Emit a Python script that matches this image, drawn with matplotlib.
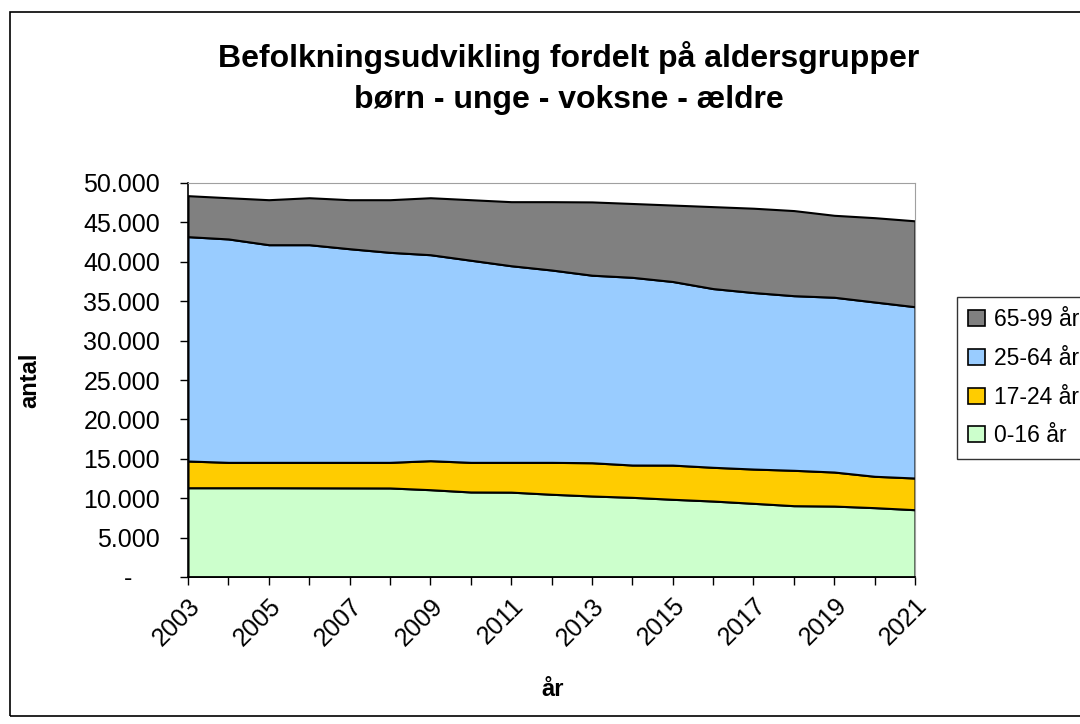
import numpy as np
import matplotlib
matplotlib.use("Agg")
import matplotlib.pyplot as plt
from matplotlib.ticker import FuncFormatter
from matplotlib.patches import Rectangle

plt.rcParams['font.family'] = ['Liberation Sans', 'DejaVu Sans']

years = list(range(2003, 2022))
labels = ['0-16 år', '17-24 år', '25-64 år', '65-99 år']
colors = ['#CCFFCC', '#FFCC00', '#99CCFF', '#808080']

# antal personer per aldersgruppe
born = [11330, 11330, 11330, 11320, 11310, 11300, 11080, 10790, 10770, 10500,
        10280, 10110, 9860, 9640, 9350, 9050, 9000, 8800, 8540]
unge = [3390, 3220, 3220, 3230, 3240, 3250, 3680, 3760, 3780, 4050,
        4220, 4100, 4340, 4280, 4350, 4490, 4320, 3980, 4020]
voksne = [28470, 28350, 27620, 27620, 27110, 26650, 26140, 25650, 24950, 24410,
          23800, 23820, 23300, 22680, 22400, 22160, 22180, 22120, 21740]
aeldre = [5200, 5230, 5710, 5960, 6220, 6680, 7230, 7680, 8130, 8670,
          9300, 9370, 9700, 10400, 10700, 10800, 10400, 10700, 10900]

fig = plt.figure(figsize=(10.8, 7.24), dpi=100)
ax = fig.add_axes([188/1080, 1-577/724, (915-188)/1080, (577-183)/724])

ax.stackplot(years, born, unge, voksne, aeldre, colors=colors,
             edgecolor='black', linewidth=1.5, labels=labels)

ax.set_xlim(2003, 2021)
ax.set_ylim(0, 50000)
ax.set_yticks(np.arange(0, 50001, 5000))

def fmt(v, pos):
    if v == 0:
        return '-    '
    return '{:,.0f}'.format(v).replace(',', '.')

ax.yaxis.set_major_formatter(FuncFormatter(fmt))
ax.set_xticks(years)
ax.set_xticklabels([str(y) if y % 2 == 1 else '' for y in years],
                   rotation=45, ha='right', va='top', rotation_mode='anchor')
ax.tick_params(axis='both', direction='out', length=6, width=1, labelsize=18, color='black')
ax.tick_params(axis='y', pad=14)
ax.tick_params(axis='x', pad=6)

for s in ['top', 'right']:
    ax.spines[s].set_color('#A0A0A0')
for s in ['left', 'bottom']:
    ax.spines[s].set_color('black')
    ax.spines[s].set_linewidth(1.2)

ax.set_ylabel('antal', fontsize=17, fontweight='bold')
ax.yaxis.set_label_coords(-(188-41)/727, 0.5)
ax.set_xlabel('år', fontsize=17, fontweight='bold', va='center')
ax.xaxis.set_label_coords((553-188)/727, -(690-577)/394)

fig.text(569/1080, 1-58/724, 'Befolkningsudvikling fordelt på aldersgrupper',
         ha='center', va='center', fontsize=23, fontweight='bold')
fig.text(569/1080, 1-100/724, 'børn - unge - voksne - ældre',
         ha='center', va='center', fontsize=23, fontweight='bold')

h, l = ax.get_legend_handles_labels()
leg = fig.legend(h[::-1], l[::-1], loc='upper left',
                 bbox_to_anchor=(957/1080, 1-297/724), fontsize=16.5,
                 frameon=True, fancybox=False, edgecolor='black',
                 handlelength=0.7, handleheight=0.7, handletextpad=0.4,
                 labelspacing=0.68, borderpad=0.5, borderaxespad=0)
leg.get_frame().set_linewidth(1)
for p in leg.get_patches():
    p.set_linewidth(1.2)

fig.patches.append(Rectangle((10/1080, 8/724), 1.1, 1-20/724, transform=fig.transFigure,
                             fill=False, edgecolor='black', linewidth=1.2))

fig.savefig('out.png', dpi=100)
